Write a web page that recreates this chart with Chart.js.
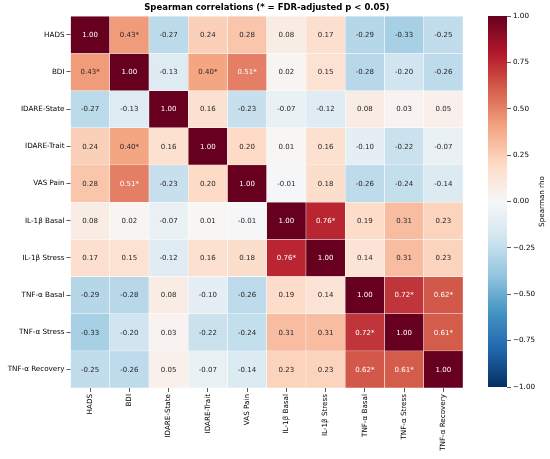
<!DOCTYPE html>
<html><head><meta charset="utf-8">
<script src="https://cdn.jsdelivr.net/npm/chart.js@4.4.1/dist/chart.umd.min.js"></script>
<style>
html,body{margin:0;padding:0;background:#fff;}
#wrap{position:relative;width:550px;height:459px;overflow:hidden;}
#main{position:absolute;left:0;top:0;width:550px;height:459px;}
#cbar{position:absolute;left:488px;top:0;width:62px;height:459px;}
</style></head><body>
<div id="wrap"><div id="main"><canvas id="c1"></canvas></div><div id="cbar"><canvas id="c2"></canvas></div></div>
<script>
const variables = ['HADS','BDI','IDARE-State','IDARE-Trait','VAS Pain','IL-1\u03B2 Basal','IL-1\u03B2 Stress','TNF-\u03B1 Basal','TNF-\u03B1 Stress','TNF-\u03B1 Recovery'];
const rho = [
  [ 1.00, 0.43,-0.27, 0.24, 0.28, 0.08, 0.17,-0.29,-0.33,-0.25],
  [ 0.43, 1.00,-0.13, 0.40, 0.51, 0.02, 0.15,-0.28,-0.20,-0.26],
  [-0.27,-0.13, 1.00, 0.16,-0.23,-0.07,-0.12, 0.08, 0.03, 0.05],
  [ 0.24, 0.40, 0.16, 1.00, 0.20, 0.01, 0.16,-0.10,-0.22,-0.07],
  [ 0.28, 0.51,-0.23, 0.20, 1.00,-0.01, 0.18,-0.26,-0.24,-0.14],
  [ 0.08, 0.02,-0.07, 0.01,-0.01, 1.00, 0.76, 0.19, 0.31, 0.23],
  [ 0.17, 0.15,-0.12, 0.16, 0.18, 0.76, 1.00, 0.14, 0.31, 0.23],
  [-0.29,-0.28, 0.08,-0.10,-0.26, 0.19, 0.14, 1.00, 0.72, 0.62],
  [-0.33,-0.20, 0.03,-0.22,-0.24, 0.31, 0.31, 0.72, 1.00, 0.61],
  [-0.25,-0.26, 0.05,-0.07,-0.14, 0.23, 0.23, 0.62, 0.61, 1.00]
];
const significant = [
  [0,1,0,0,0,0,0,0,0,0],
  [1,0,0,1,1,0,0,0,0,0],
  [0,0,0,0,0,0,0,0,0,0],
  [0,1,0,0,0,0,0,0,0,0],
  [0,1,0,0,0,0,0,0,0,0],
  [0,0,0,0,0,0,1,0,0,0],
  [0,0,0,0,0,1,0,0,0,0],
  [0,0,0,0,0,0,0,0,1,1],
  [0,0,0,0,0,0,0,1,0,1],
  [0,0,0,0,0,0,0,1,1,0]
];
const colorbarTicks = [1, 0.75, 0.5, 0.25, 0, -0.25, -0.5, -0.75, -1];
const titleText = 'Spearman correlations (* = FDR-adjusted p < 0.05)';
const colorbarLabel = 'Spearman rho';

const RdBu = ['#67001f','#b2182b','#d6604d','#f4a582','#fddbc7','#f7f7f7','#d1e5f0','#92c5de','#4393c3','#2166ac','#053061'];
function hex(c){return [parseInt(c.slice(1,3),16),parseInt(c.slice(3,5),16),parseInt(c.slice(5,7),16)];}
function cmapRGB(v){
  const x = Math.max(0, Math.min(1, (v + 1) / 2));
  const t = (1 - x) * 10;
  const k = Math.min(9, Math.floor(t));
  const f = t - k;
  const a = hex(RdBu[k]), b = hex(RdBu[k+1]);
  return a.map((av, i) => Math.round(av + (b[i] - av) * f));
}
function cmap(v){const c = cmapRGB(v); return 'rgb(' + c.join(',') + ')';}
function lum(rgb){
  const l = rgb.map(c => { c /= 255; return c <= 0.03928 ? c / 12.92 : Math.pow((c + 0.055) / 1.055, 2.4); });
  return 0.2126*l[0] + 0.7152*l[1] + 0.0722*l[2];
}
const FONT = 'DejaVu Sans';
const TICK_SIZE = 7.2;

const annotatePlugin = {
  id: 'annot',
  afterDatasetsDraw(chart){
    const ctx = chart.ctx;
    ctx.save();
    ctx.font = '7px "' + FONT + '"';
    ctx.textAlign = 'center';
    ctx.textBaseline = 'middle';
    variables.forEach((_, i) => {
      const meta = chart.getDatasetMeta(i);
      meta.data.forEach((el, j) => {
        const v = rho[i][j];
        const txt = v.toFixed(2) + (significant[i][j] ? '*' : '');
        ctx.fillStyle = lum(cmapRGB(v)) > 0.408 ? '#262626' : '#ffffff';
        ctx.fillText(txt, el.x, (el.y + el.base) / 2 + 0.5);
      });
    });
    ctx.restore();
  }
};

const datasets = variables.map((name, i) => ({
  label: name,
  data: variables.map(() => [i - 0.5, i + 0.5]),
  backgroundColor: rho[i].map(cmap),
  borderColor: '#ffffff',
  borderWidth: 0.5,
  borderSkipped: false,
  grouped: false,
  barPercentage: 1,
  categoryPercentage: 1
}));

new Chart(document.getElementById('c1'), {
  type: 'bar',
  data: { labels: variables, datasets },
  options: {
    responsive: true, maintainAspectRatio: false, animation: false,
    layout: { padding: { left: 0, right: 87, top: 0, bottom: 0 } },
    plugins: {
      legend: { display: false }, tooltip: { enabled: false },
      title: { display: true, text: titleText, fullSize: false, color: '#000',
        font: { family: FONT, size: 8.5, weight: 'bold' }, padding: { top: 3, bottom: 3 } }
    },
    scales: {
      x: {
        type: 'category', offset: true,
        afterFit: s => { s.height = 71; },
        ticks: { minRotation: 90, maxRotation: 90, autoSkip: false, padding: 2, color: '#000', font: { family: FONT, size: TICK_SIZE } },
        grid: { offset: false, drawOnChartArea: false, drawTicks: true, tickLength: 4, color: '#333', lineWidth: 0.8 },
        border: { display: false }
      },
      y: {
        type: 'linear', reverse: true, min: -0.5, max: 9.5,
        afterBuildTicks: s => { s.ticks = variables.map((_, i) => ({ value: i })); },
        afterFit: s => { s.width = 70.5; },
        ticks: { autoSkip: false, padding: 2, color: '#000', font: { family: FONT, size: TICK_SIZE }, callback: v => variables[v] },
        grid: { drawOnChartArea: false, drawTicks: true, tickLength: 4, color: '#333', lineWidth: 0.8 },
        border: { display: false }
      }
    }
  },
  plugins: [annotatePlugin]
});

const cbarLabelPlugin = {
  id: 'cbarLabel',
  afterDraw(chart){
    const a = chart.chartArea, ctx = chart.ctx;
    ctx.save();
    ctx.translate(54, (a.top + a.bottom) / 2);
    ctx.rotate(-Math.PI / 2);
    ctx.font = TICK_SIZE + 'px "' + FONT + '"';
    ctx.fillStyle = '#000';
    ctx.textAlign = 'center';
    ctx.textBaseline = 'middle';
    ctx.fillText(colorbarLabel, 0, 0);
    ctx.restore();
  }
};

new Chart(document.getElementById('c2'), {
  type: 'bar',
  data: { labels: [''], datasets: [{
    data: [[-1, 1]],
    borderWidth: 0,
    barPercentage: 1, categoryPercentage: 1,
    backgroundColor: (c) => {
      const ch = c.chart, ys = ch.scales.y;
      if (!ch.chartArea || !ys) return '#f7f7f7';
      const g = ch.ctx.createLinearGradient(0, ys.getPixelForValue(1), 0, ys.getPixelForValue(-1));
      RdBu.forEach((col, k) => g.addColorStop(k / 10, col));
      return g;
    }
  }]},
  options: {
    responsive: true, maintainAspectRatio: false, animation: false,
    layout: { padding: { left: 0, right: 0, top: 16, bottom: 72 } },
    plugins: { legend: { display: false }, tooltip: { enabled: false } },
    scales: {
      x: { display: false },
      y: {
        position: 'right', min: -1, max: 1,
        afterBuildTicks: s => { s.ticks = colorbarTicks.map(v => ({ value: v })); },
        afterFit: s => { s.width = 43; },
        ticks: { padding: 2, color: '#000', font: { family: FONT, size: TICK_SIZE },
          callback: v => (v < 0 ? '\u2212' : '') + Math.abs(v).toFixed(2) },
        grid: { drawOnChartArea: false, drawTicks: true, tickLength: 4, color: '#333', lineWidth: 0.8 },
        border: { display: false }
      }
    }
  },
  plugins: [cbarLabelPlugin]
});
</script>
</body></html>
